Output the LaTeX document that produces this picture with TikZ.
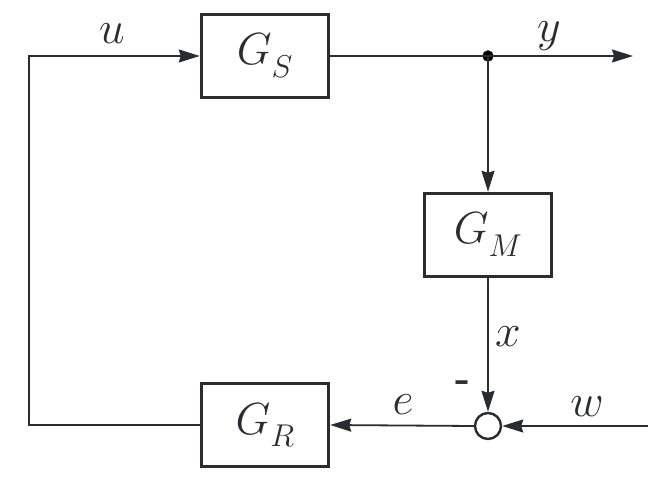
\RequirePackage{fix-cm}
\documentclass[tikz,border=0pt]{standalone}
\usetikzlibrary{arrows.meta}
\definecolor{ink}{RGB}{42,44,50}
\newcommand{\lowsub}[1]{_{\lower6pt\hbox{$\scriptstyle #1$}}}
\begin{document}
\begin{tikzpicture}[x=1pt,y=-1pt,
  ink/.style={draw=ink,text=ink},
  blk/.style={ink,rectangle,line width=3.5pt,minimum width=127pt,minimum height=83pt,inner sep=0pt,
    font=\fontsize{45}{54}\selectfont},
  sumnode/.style={ink,circle,line width=2.4pt,minimum size=26pt,inner sep=0pt},
  wire/.style={draw=ink,line width=1.8pt},
  arr/.style={wire,-{Stealth[length=21pt,width=13pt,inset=2pt]}},
  lab/.style={text=ink,inner sep=0pt,font=\fontsize{46}{55}\selectfont}]
\useasboundingbox (0,0) rectangle (672,478);
\node[blk] (GS) at (265,56) {$G\lowsub{S}$};
\node[blk] (GM) at (488,235) {$G\lowsub{M}$};
\node[blk] (GR) at (265,425) {$G\lowsub{R}$};
\node[sumnode] (sum) at (488,426) {};
\fill[ink] (488,56) circle (5.5pt);
\coordinate (dot) at (488,56);
\coordinate (ltop) at (29,56);
\coordinate (lbot) at (29,425);
\coordinate (yend) at (633,56);
\coordinate (win) at (648,426);
\draw[arr] (GR.west) -- (lbot) -- (ltop) -- (GS.west);
\draw[wire] (GS.east) -- (dot);
\draw[arr] (dot) -- (yend);
\draw[arr] (dot) -- (GM.north);
\draw[arr] (GM.south) -- (sum.north);
\draw[arr] (win) -- (sum.east);
\draw[arr] (sum.west) -- (GR.east);
\node[lab] (lu) at (112,34) {$u$};
\node[lab] (ly) at (549,36) {$y$};
\node[lab] (lx) at (508,337) {$x$};
\node[lab] (le) at (403,405) {$e$};
\node[lab] (lw) at (587,407) {$w$};
\node[text=ink,inner sep=0pt,font=\fontsize{40}{48}\selectfont\bfseries] (lm) at (463,386) {-};
\end{tikzpicture}
\end{document}
